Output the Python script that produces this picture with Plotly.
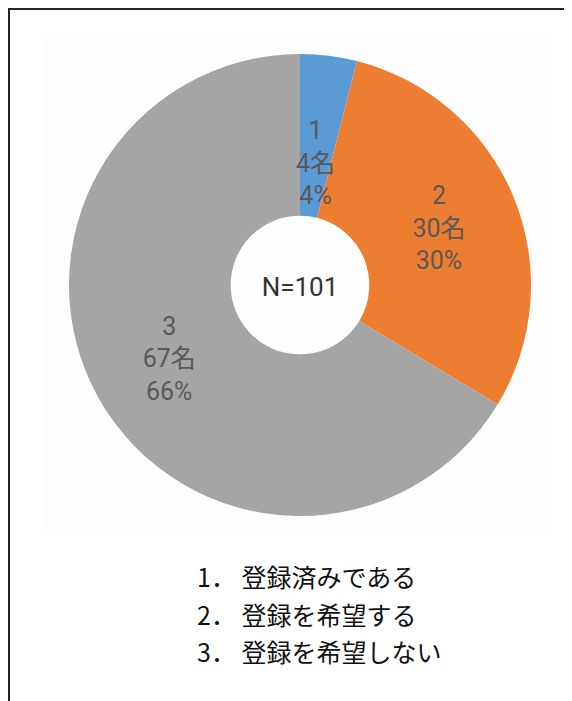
import math
import plotly.graph_objects as go

# ---- data ----
categories = ["1", "2", "3"]
counts = [4, 30, 67]
pct_labels = ["4%", "30%", "66%"]
total_label = "N=101"
legend_items = ["1． 登録済みである", "2． 登録を希望する", "3． 登録を希望しない"]

colors = ["#5B9BD5", "#ED7D31", "#A5A5A5"]
W, H = 572, 701
OFF = 8  # page body margin offset
FONT = "Noto Sans CJK JP"
LFONT = "Roboto, Noto Sans CJK JP"

texts = [f"{c}<br>{n}名<br>{p}" for c, n, p in zip(categories, counts, pct_labels)]

# pie geometry in pixels (as seen in page)
cx, cy, r = 300 - OFF, 285 - OFF, 231

# slice 1 is too narrow for plotly's inside placement -> placed by annotation at its mid angle
pie_texts = [""] + texts[1:]

fig = go.Figure(go.Pie(
    labels=categories,
    values=counts,
    text=pie_texts,
    textinfo="text",
    textposition="inside",
    insidetextorientation="horizontal",
    sort=False,
    direction="clockwise",
    rotation=0,
    hole=0.30,
    marker=dict(colors=colors, line=dict(width=0)),
    textfont=dict(family=LFONT, size=25, color="#595959"),
    hoverinfo="label+value+percent",
    title=dict(text=total_label, position="middle center",
               font=dict(family=LFONT, size=26, color="#333333")),
    domain=dict(x=[(cx - r) / W, (cx + r) / W], y=[1 - (cy + r) / H, 1 - (cy - r) / H]),
    showlegend=False,
))

total = sum(counts)
mid_angle = (counts[0] / 2) / total * 2 * math.pi
lab_r = 123
lx = cx + lab_r * math.sin(mid_angle)
ly = cy - lab_r * math.cos(mid_angle)

shapes = [
    # faint chart area background
    dict(type="rect", xref="paper", yref="paper", x0=(43 - OFF) / W, x1=(553 - OFF) / W,
         y0=1 - (533 - OFF) / H, y1=1 - (35 - OFF) / H, fillcolor="#fdfdfd",
         line=dict(width=0), layer="below"),
    # outer frame (only top and left visible)
    dict(type="rect", xref="paper", yref="paper", x0=(9 - OFF) / W, x1=1.05,
         y0=-0.05, y1=1 - (9 - OFF) / H, line=dict(color="#222222", width=2), layer="above"),
]

annotations = [
    dict(text=texts[0], xref="paper", yref="paper", x=lx / W, y=1 - ly / H,
         xanchor="center", yanchor="middle", showarrow=False,
         font=dict(family=LFONT, size=25, color="#595959"))
]

line_y = [576, 614, 651]
annotations += [
    dict(text=t, xref="paper", yref="paper", x=(195 - OFF) / W, y=1 - (yy - OFF) / H,
         xanchor="left", yanchor="middle", showarrow=False,
         font=dict(family=FONT, size=25, color="#111111"))
    for t, yy in zip(legend_items, line_y)
]

fig.update_layout(
    width=W, height=H, autosize=False,
    margin=dict(l=0, r=0, t=0, b=0),
    paper_bgcolor="white", plot_bgcolor="white",
    uniformtext=dict(minsize=25, mode="show"),
    shapes=shapes,
    annotations=annotations,
)

fig.write_html("out.html")
